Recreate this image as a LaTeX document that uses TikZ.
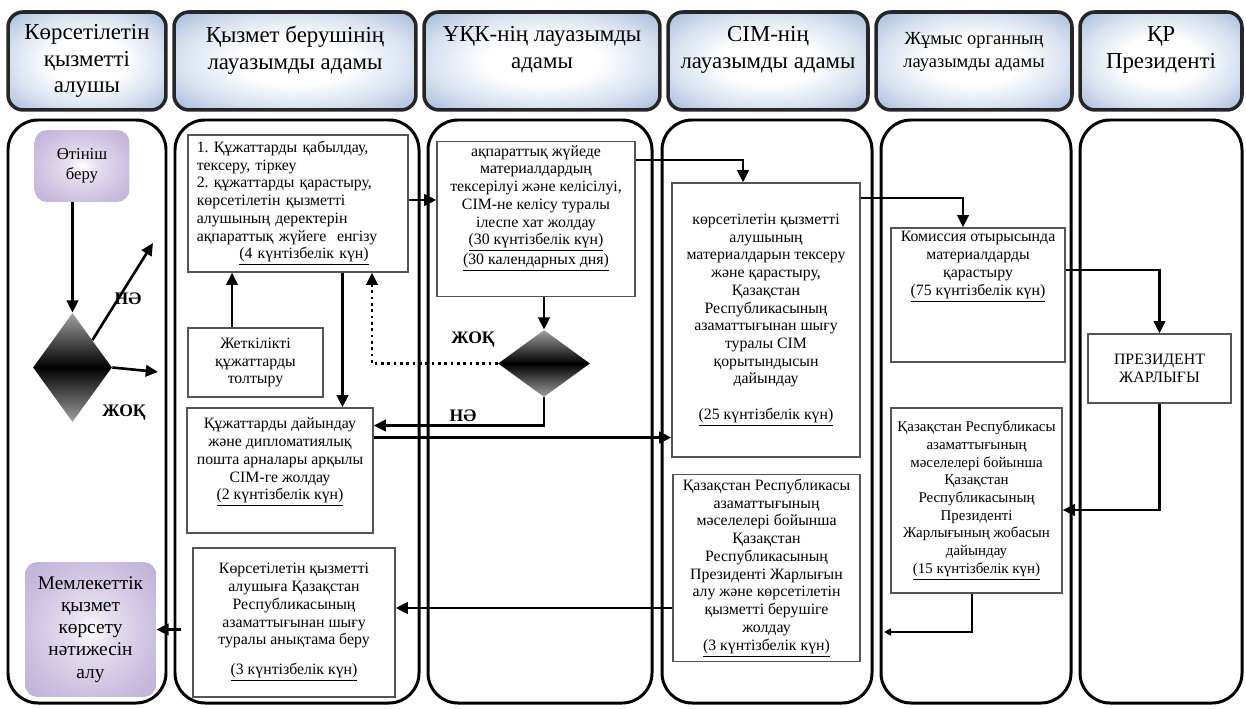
\documentclass[tikz,border=0pt]{standalone}
\usepackage{fontspec}
\setmainfont{Liberation Serif}
\usetikzlibrary{arrows.meta,shapes.geometric}

\definecolor{hdrblue}{RGB}{160,184,218}
\definecolor{lilac}{RGB}{190,174,216}
\definecolor{boxline}{RGB}{85,85,85}
\pgfdeclareradialshading{hdrshade}{\pgfpoint{0bp}{0bp}}{color(0bp)=(white);
  color(12bp)=(white); color(25bp)=(hdrblue!45); color(36bp)=(hdrblue);
  color(50bp)=(hdrblue)}
\pgfdeclareradialshading{lilacshade}{\pgfpoint{0bp}{0bp}}{color(0bp)=(white);
  color(8bp)=(lilac!40); color(25bp)=(lilac!80); color(36bp)=(lilac);
  color(50bp)=(lilac)}

\begin{document}
\begin{tikzpicture}[x=0.02cm,y=-0.02cm,
  header/.style={draw=black!85,line width=2pt,rounded corners=0.3cm,
    shading=hdrshade,minimum height=1.96cm,
    align=center,font=\fontsize{13}{15.3}\selectfont},
  lane/.style={draw=black,line width=1.7pt,rounded corners=0.6cm},
  stepbox/.style={draw=boxline,line width=0.7pt,align=center,inner sep=2pt,
    font=\fontsize{9}{10.1}\selectfont\frenchspacing},
  endbox/.style={rounded corners=0.25cm,shading=lilacshade,
    align=center,inner sep=2pt},
  choice/.style={diamond,inner sep=0pt,top color=gray!75,bottom color=gray!75,
    middle color=black},
  arr/.style={line width=1.5pt,-{Triangle[length=7pt,width=6.5pt]}},
  dotarr/.style={line width=1.5pt,dash pattern=on 1.6pt off 2pt,
    -{Triangle[length=7pt,width=6.5pt]}},
  answer/.style={font=\bfseries\fontsize{10}{12}\selectfont}
  ]
  \useasboundingbox (0,0) rectangle (1246,709);

  % lanes
  \foreach \l/\r in {8/166,175/419,428/652,662/872,881/1071,1080/1242}
    \draw[lane] (\l,120) rectangle (\r,703);

  % headers
  \node[header,minimum width=3.16cm] (h1) at (87,61) {Көрсетілетін\\қызметті\\алушы};
  \node[header,minimum width=4.84cm] (h2) at (295,61) {Қызмет берушінің\\лауазымды адамы\\\mbox{}};
  \node[header,minimum width=4.72cm] (h3) at (542,61) {ҰҚК-нің лауазымды\\адамы\\\mbox{}};
  \node[header,minimum width=4.0cm] (h4) at (768,61) {СІМ-нің\\лауазымды адамы\\\mbox{}};
  \node[header,minimum width=3.92cm,font=\fontsize{10.5}{13}\selectfont] (h5) at (974,61) {Жұмыс органның\\лауазымды адамы\\\mbox{}};
  \node[header,minimum width=3.24cm] (h6) at (1161,61) {ҚР\\Президенті\\\mbox{}};

  % service receiver
  \node[endbox,minimum width=1.9cm,minimum height=1.44cm,
    font=\fontsize{9.5}{11.5}\selectfont] (apply) at (82,166) {Өтініш\\беру};
  \node[choice,minimum width=1.58cm,minimum height=2.18cm] (d1) at (72.5,367.5) {};
  \coordinate (d1yes) at (153,243);
  \coordinate (d1no) at (158,372);
  \node[endbox,minimum width=2.62cm,minimum height=2.7cm,
    font=\fontsize{11}{12.6}\selectfont] (result) at (90.5,629.5)
    {Мемлекеттік\\қызмет\\көрсету\\нәтижесін\\алу};

  % service provider
  \node[stepbox,align=left,text width=4.05cm,minimum width=4.4cm,minimum height=2.74cm] (accept) at (298,203.5)
    {1. Құжаттарды қабылдау,\\тексеру, тіркеу\\2. құжаттарды қарастыру,\\көрсетілетін қызметті\\алушының деректерін\\ақпараттық жүйеге \ енгізу\\\hspace*{0.85cm}\underline{(4 күнтізбелік күн)}};
  \node[stepbox,minimum width=2.7cm,minimum height=1.38cm] (fill) at (255.5,362.5)
    {Жеткілікті\\құжаттарды\\толтыру};
  \node[stepbox,minimum width=3.72cm,minimum height=2.5cm] (send) at (280,470.5)
    {Құжаттарды дайындау\\және дипломатиялық\\пошта арналары арқылы\\СІМ-ге жолдау\\\underline{(2 күнтізбелік күн)}\\[3pt]\mbox{}};
  \node[stepbox,minimum width=4.04cm,minimum height=2.98cm] (issue) at (294,622.5)
    {Көрсетілетін қызметті\\алушыға Қазақстан\\Республикасының\\азаматтығынан шығу\\туралы анықтама беру\\[7pt]\underline{(3 күнтізбелік күн)}};

  % national security committee
  \node[stepbox,minimum width=3.96cm,minimum height=3.04cm] (check) at (536,219)
    {ақпараттық жүйеде\\материалдардың\\тексерілуі және келісілуі,\\СІМ-не келісу туралы\\ілеспе хат жолдау\\\underline{(30 күнтізбелік күн)}\\\underline{(30 календарных дня)}\\[6pt]\mbox{}};
  \node[choice,minimum width=1.84cm,minimum height=1.34cm] (d2) at (544,363.5) {};

  % ministry of foreign affairs
  \node[stepbox,minimum width=3.76cm,minimum height=5.48cm] (review) at (766,320)
    {көрсетілетін қызметті\\алушының\\материалдарын тексеру\\және қарастыру,\\Қазақстан\\Республикасының\\азаматтығынан шығу\\туралы СІМ\\қорытындысын\\дайындау\\[10pt]\underline{(25 күнтізбелік күн)}};
  \node[stepbox,minimum width=3.74cm,minimum height=3.74cm] (forward) at (766.5,568)
    {Қазақстан Республикасы\\азаматтығының\\мәселелері бойынша\\Қазақстан\\Республикасының\\Президенті Жарлығын\\алу және көрсетілетін\\қызметті берушіге\\жолдау\\\underline{(3 күнтізбелік күн)}};

  % working body
  \node[stepbox,minimum width=3.48cm,minimum height=2.6cm] (commission) at (978,295)
    {Комиссия отырысында\\материалдарды\\қарастыру\\\underline{(75 күнтізбелік күн)}\\[26pt]\mbox{}};
  \node[stepbox,minimum width=3.42cm,minimum height=3.7cm,
    font=\fontsize{8.5}{10.1}\selectfont] (draft) at (976.5,500.5)
    {Қазақстан Республикасы\\азаматтығының\\мәселелері бойынша\\Қазақстан\\Республикасының\\Президенті\\Жарлығының жобасын\\дайындау\\\underline{(15 күнтізбелік күн)}};
  \coordinate (back) at (884,632);

  % president
  \node[stepbox,minimum width=2.86cm,minimum height=1.38cm] (decree) at (1159.5,368.5)
    {ПРЕЗИДЕНТ\\ЖАРЛЫҒЫ};

  % connectors
  \draw[arr] (apply.south -| d1.north) -- (d1.north);
  \draw[arr] (d1.north east) -- (d1yes);
  \draw[arr] (d1.east) -- (d1no);
  \node[answer] (yes1) at (128,299) {НӘ};
  \node[answer] (no1) at (124,413) {ЖОҚ};

  \draw[arr,line width=1.2pt] ([xshift=-0.47cm]fill.north) -- ([xshift=-0.47cm]fill.north |- accept.south);
  \draw[arr] ([xshift=1.25cm]send.north |- accept.south) -- ([xshift=1.25cm]send.north);
  \draw[arr] (accept.east |- 0,200) -- (check.west |- 0,200);
  \draw[arr] (check.south -| d2.north) -- (d2.north);
  \draw[dotarr] (d2.west) -| ([xshift=1.48cm]accept.south);
  \draw[arr] (d2.south) |- ([yshift=0.9cm]send.east);
  \node[answer] (no2) at (473,340) {ЖОҚ};
  \node[answer] (yes2) at (463,416) {НӘ};

  \draw[arr] ([yshift=0.66cm]send.east) -- ([yshift=0.66cm]send.east -| review.west);
  \draw[arr] (check.east |- 0,160) -| ([xshift=-0.46cm]review.north);
  \draw[arr] (review.east |- 0,198) -| ([xshift=-0.3cm]commission.north);
  \draw[arr] (commission.east |- 0,270) -| (decree.north);
  \draw[arr] (decree.south) |- ([yshift=-0.19cm]draft.east);
  \draw[arr,line width=1.2pt,-{Triangle[length=4pt,width=4pt]}] (draft.south -| 972,0) |- (back);
  \draw[arr] ([yshift=-0.8cm]forward.west) -- ([yshift=-0.8cm]forward.west -| issue.east);
  \draw[arr] ([xshift=-0.22cm]issue.west |- result.east) -- (result.east);
\end{tikzpicture}
\end{document}
